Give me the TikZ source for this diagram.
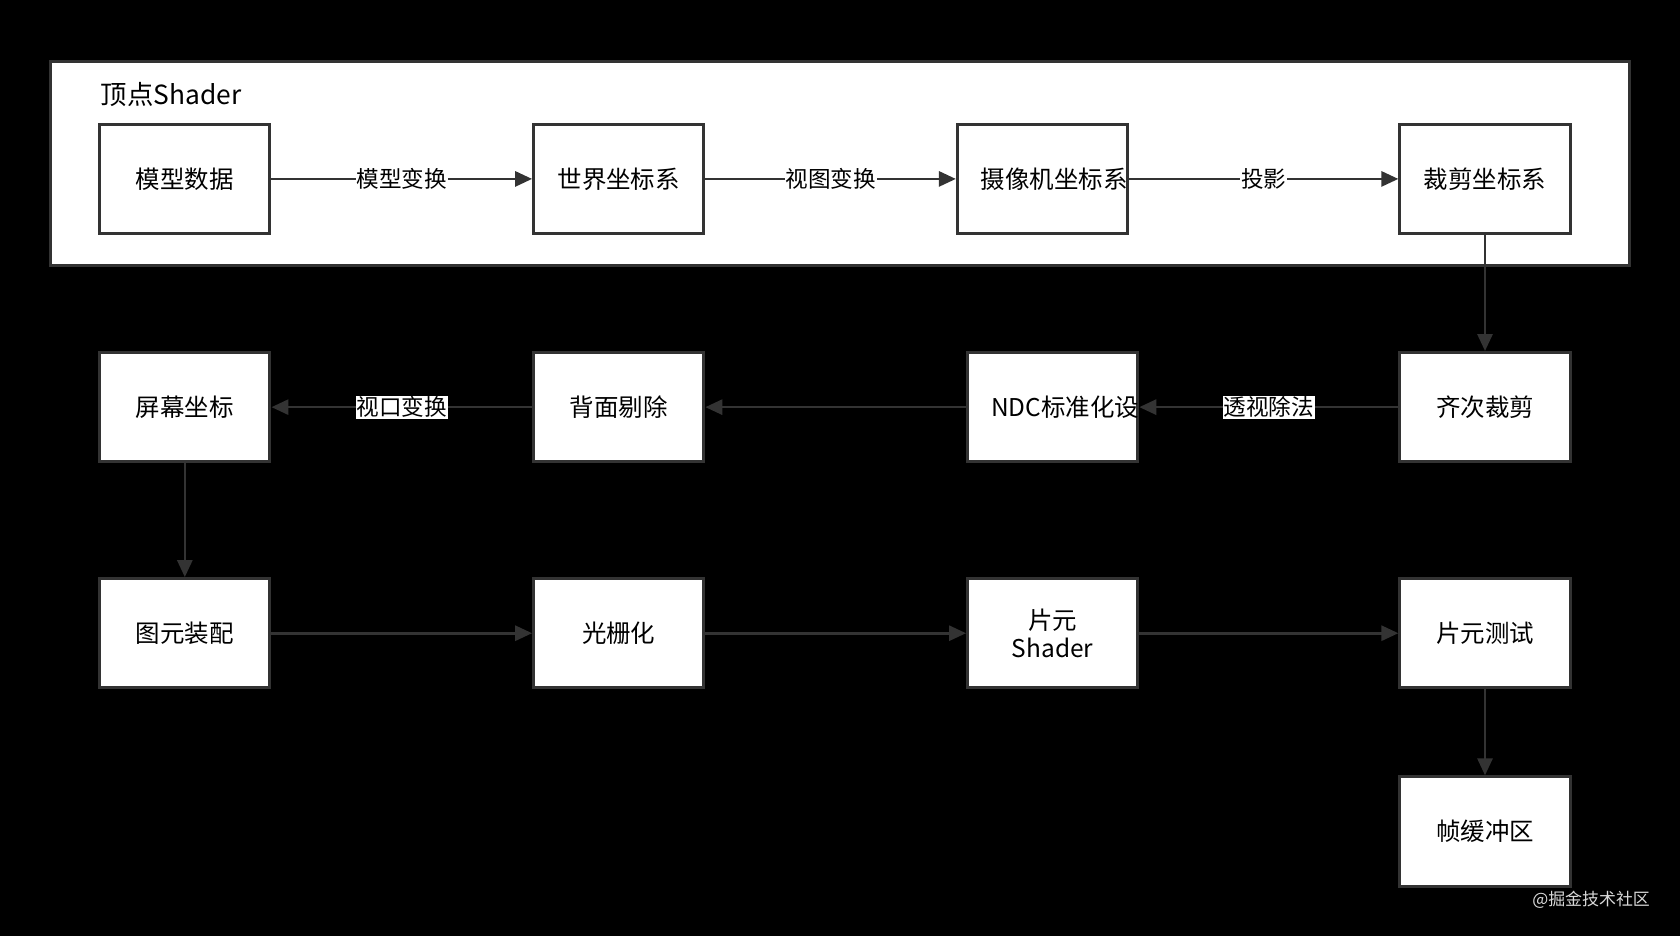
\documentclass[tikz,border=0pt]{standalone}
\usepackage{fontspec}
\setmainfont{Noto Sans CJK SC}
\usetikzlibrary{arrows.meta}
\definecolor{edge}{HTML}{333333}
\tikzset{
  box/.style={draw=edge, line width=1.6pt, fill=white, minimum width=3.18cm, minimum height=2.04cm,
    align=center, text width=2.3cm, font=\fontsize{13}{15}\selectfont},
  arr/.style={draw=edge, line width=1.4pt, -{Triangle[length=9pt,width=8pt]}},
  lbl/.style={fill=white, inner sep=0.5pt, font=\fontsize{12}{14}\selectfont}
}
\begin{document}
\begin{tikzpicture}[x=0.02cm, y=-0.02cm]
\useasboundingbox (0,0) rectangle (1568,874);
\fill [black] (0,0) rectangle (1568,874);
\draw [draw=edge, line width=1.6pt, fill=white] (47,57) rectangle (1521,248);
\node [anchor=west, font=\fontsize{14}{16}\selectfont] (title) at (88,88) {顶点Shader};

\node [box] (model) at (172.5,167) {模型数据};
\node [box] (world) at (577.5,167) {世界坐标系};
\node [box] (camera) at (973,167) {摄像机坐标系};
\node [box] (clip) at (1386,167) {裁剪坐标系};

\node [box] (screen) at (172.5,380) {屏幕坐标};
\node [box] (cull) at (577.5,380) {背面剔除};
\node [box] (ndc) at (982.5,380) {NDC标准化设备坐标};
\node [box] (homo) at (1386,380) {齐次裁剪};

\node [box] (prim) at (172.5,591) {图元装配};
\node [box] (raster) at (577.5,591) {光栅化};
\node [box] (frag) at (982.5,591) {片元\\Shader};
\node [box] (ftest) at (1386,591) {片元测试};

\node [box] (fbuf) at (1386,776) {帧缓冲区};

\draw [arr] (model) -- node [lbl] {模型变换} (world);
\draw [arr] (world) -- node [lbl] {视图变换} (camera);
\draw [arr] (camera) -- node [lbl] {投影} (clip);
\draw [arr] (clip) -- (homo);
\draw [arr] (homo) -- node [lbl] {透视除法} (ndc);
\draw [arr] (ndc) -- (cull);
\draw [arr] (cull) -- node [lbl] {视口变换} (screen);
\draw [arr] (screen) -- (prim);
\draw [arr] (prim) -- (raster);
\draw [arr] (raster) -- (frag);
\draw [arr] (frag) -- (ftest);
\draw [arr] (ftest) -- (fbuf);

\node [text=white!85!black, font=\fontsize{9}{11}\selectfont] (mark) at (1485,840) {@掘金技术社区};
\end{tikzpicture}
\end{document}
